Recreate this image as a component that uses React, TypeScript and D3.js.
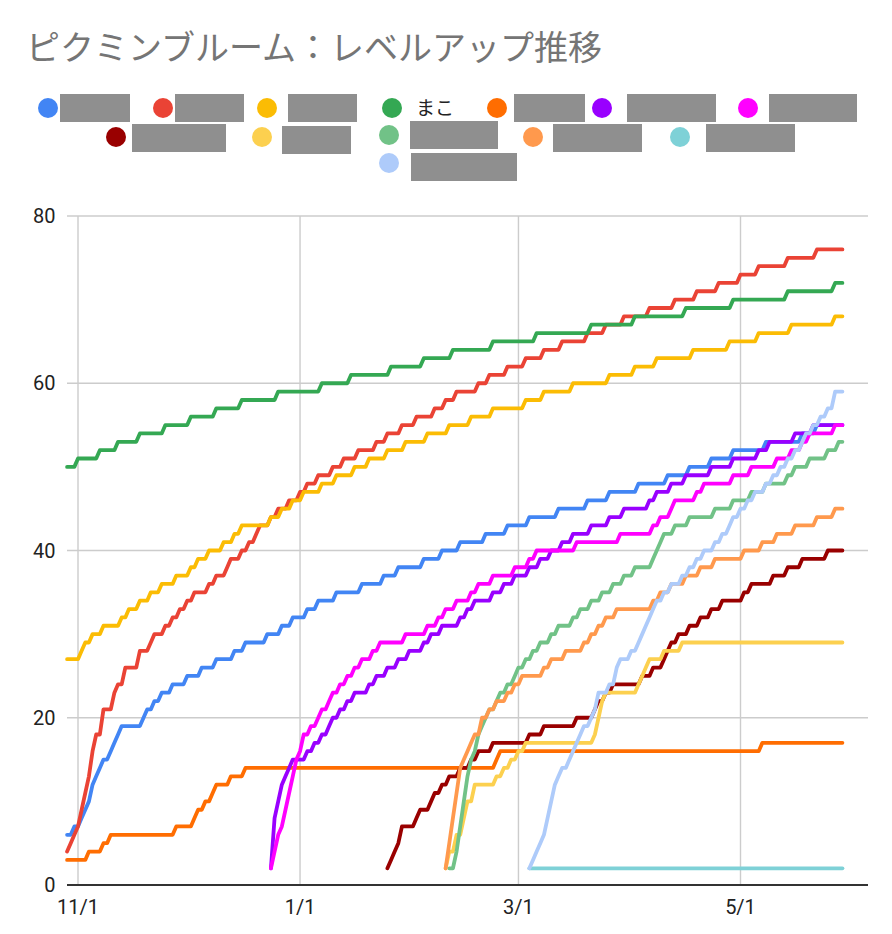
import React from 'react';
import * as d3 from 'd3';

// ---------- data ----------
const title = 'ピクミンブルーム：レベルアップ推移';
const baseDate = Date.UTC(2023, 10, 1); // day 0 = 11/1
const endDay = 210;

const seriesLabels = [null, null, null, 'まこ', null, null, null, null, null, null, null, null, null];
const seriesColors = ['#4285f4', '#ea4335', '#fbbc04', '#34a853', '#ff6d01', '#9900ff', '#ff00ff',
  '#990000', '#fcd04f', '#71c287', '#ff994d', '#7ed1d7', '#aecbfa'];

// [day offset from 11/1, level reached]
const stepsBlue = [[-3,6],[-1,7],[1,8],[2,9],[3,10],[4,12],[5,13],[6,14],[7,15],[9,16],[10,17],[11,18],[12,19],[18,20],[19,21],[21,22],[23,23],[26,24],[30,25],[34,26],[38,27],[43,28],[46,29],[52,30],[56,31],[59,32],[63,33],[66,34],[71,35],[78,36],[84,37],[88,38],[95,39],[100,40],[105,41],[112,42],[118,43],[124,44],[132,45],[140,46],[146,47],[154,48],[162,49],[168,50],[174,51],[180,52],[189,53],[199,54],[203,55]];
const stepsRed = [[-3,4],[-2,5],[-1,6],[0,7],[1,9],[2,11],[3,13],[4,16],[5,18],[7,21],[10,23],[11,24],[13,26],[17,28],[20,29],[21,30],[24,31],[26,32],[28,33],[30,34],[32,35],[36,36],[38,37],[41,38],[42,39],[45,40],[47,41],[49,42],[50,43],[53,44],[55,45],[58,46],[61,47],[63,48],[66,49],[70,50],[73,51],[77,52],[82,53],[85,54],[89,55],[93,56],[98,57],[101,58],[104,59],[110,60],[113,61],[118,62],[123,63],[128,64],[133,65],[140,66],[145,67],[150,68],[157,69],[164,70],[170,71],[176,72],[182,73],[187,74],[195,75],[203,76]];
const stepsYellow = [[-3,27],[1,28],[2,29],[4,30],[7,31],[12,32],[14,33],[17,34],[20,35],[23,36],[27,37],[31,38],[33,39],[36,40],[40,41],[43,42],[45,43],[53,44],[56,45],[59,46],[62,47],[67,48],[71,49],[76,50],[80,51],[85,52],[90,53],[96,54],[102,55],[108,56],[114,57],[123,58],[128,59],[136,60],[146,61],[153,62],[159,63],[169,64],[179,65],[187,66],[196,67],[208,68]];
const stepsGreen = [[-3,50],[0,51],[6,52],[11,53],[17,54],[24,55],[31,56],[38,57],[45,58],[55,59],[67,60],[75,61],[86,62],[95,63],[103,64],[114,65],[126,66],[141,67],[153,68],[167,69],[180,70],[195,71],[208,72]];
const stepsOrange = [[-3,3],[3,4],[7,5],[9,6],[27,7],[32,8],[33,9],[35,10],[37,11],[38,12],[42,13],[46,14],[115,15],[116,16],[188,17]];
const stepsPurple = [[53,2],[54,8],[55,10],[56,12],[57,13],[58,14],[59,15],[63,16],[65,17],[67,18],[69,19],[70,20],[72,21],[74,22],[76,23],[80,24],[82,25],[85,26],[88,27],[91,28],[95,29],[97,30],[100,31],[105,32],[107,33],[109,34],[114,35],[117,36],[120,37],[124,38],[127,39],[130,40],[133,41],[136,42],[141,43],[146,44],[150,45],[157,46],[159,47],[163,48],[167,49],[174,50],[180,51],[187,52],[190,53],[197,54],[202,55]];
const stepsMagenta = [[53,2],[54,4],[55,6],[56,7],[57,9],[58,11],[59,13],[60,15],[61,16],[62,18],[64,19],[66,20],[67,21],[69,22],[70,23],[72,24],[74,25],[76,26],[78,27],[81,28],[83,29],[90,30],[96,31],[99,32],[101,33],[104,34],[108,35],[110,36],[114,37],[120,38],[124,39],[126,40],[137,41],[149,42],[158,43],[160,44],[163,45],[164,46],[170,47],[172,48],[180,49],[185,50],[192,51],[196,52],[199,53],[201,54],[208,55]];
const stepsDarkRed = [[85,2],[86,3],[87,4],[88,5],[89,7],[93,8],[94,9],[97,10],[98,11],[100,12],[102,13],[105,14],[108,15],[110,16],[114,17],[124,18],[128,19],[137,20],[142,21],[143,22],[145,23],[147,24],[155,25],[158,26],[161,27],[162,28],[163,29],[165,30],[168,31],[171,32],[174,33],[177,34],[183,35],[185,36],[191,37],[195,38],[199,39],[206,40]];
const stepsLightYellow = [[101,2],[102,4],[104,6],[106,8],[107,10],[109,12],[115,13],[117,14],[119,15],[121,16],[123,17],[142,18],[143,20],[144,22],[145,23],[154,24],[155,25],[156,26],[157,27],[161,28],[166,29]];
const stepsLightGreen = [[102,2],[104,4],[105,7],[106,10],[107,13],[108,15],[109,16],[110,18],[111,19],[112,20],[113,21],[115,22],[116,23],[118,24],[120,25],[121,26],[123,27],[125,28],[127,29],[130,30],[132,31],[136,32],[138,33],[141,34],[144,35],[147,36],[150,37],[153,38],[158,39],[159,40],[160,41],[161,42],[164,43],[168,44],[175,45],[180,46],[185,47],[189,48],[195,49],[197,50],[201,51],[206,52],[209,53]];
const stepsLightOrange = [[101,2],[102,5],[103,8],[104,11],[105,14],[106,15],[107,16],[108,17],[109,18],[111,20],[113,21],[115,22],[118,23],[120,24],[122,25],[128,26],[130,27],[134,28],[139,29],[141,30],[143,31],[145,32],[148,33],[158,34],[160,35],[163,36],[167,37],[171,38],[175,39],[183,40],[188,41],[192,42],[197,43],[203,44],[208,45]];
const stepsTeal = [[124,2]];
const stepsLightBlue = [[124,2],[125,3],[126,4],[127,5],[128,6],[129,8],[130,10],[131,12],[132,13],[133,14],[135,15],[136,16],[137,17],[138,18],[139,19],[141,20],[142,21],[143,23],[146,24],[148,26],[149,27],[152,28],[154,29],[155,30],[156,31],[157,32],[158,33],[159,34],[161,35],[163,36],[166,37],[168,38],[170,39],[172,40],[175,41],[177,42],[179,43],[180,44],[182,45],[184,46],[186,47],[189,48],[191,49],[193,50],[195,51],[197,52],[199,53],[200,54],[202,55],[204,56],[206,57],[208,59]];

const allSteps = [stepsBlue, stepsRed, stepsYellow, stepsGreen, stepsOrange, stepsPurple, stepsMagenta,
  stepsDarkRed, stepsLightYellow, stepsLightGreen, stepsLightOrange, stepsTeal, stepsLightBlue];

const yTicks = [0, 20, 40, 60, 80];
const xTickLabels = ['11/1', '1/1', '3/1', '5/1'];
const xTickDates = [Date.UTC(2023, 10, 1), Date.UTC(2024, 0, 1), Date.UTC(2024, 2, 1), Date.UTC(2024, 4, 1)];

// legend layout: [circle x, circle y, box x, box y, box w, box h]
const legendLayout = [
  [48, 108, 60, 94, 70, 28], [163, 108, 175, 94, 69, 28], [267, 108, 288, 94, 69, 28],
  [392, 108, 0, 0, 0, 0], [497, 108, 514, 94, 71, 28], [602, 108, 627, 94, 89, 28],
  [748, 108, 769, 94, 88, 28],
  [116, 137, 132, 124, 94, 28], [262, 137, 282, 126, 69, 28], [389, 135, 410, 121, 88, 28],
  [533, 137, 553, 124, 89, 28], [680, 137, 706, 124, 89, 28],
  [389, 163, 411, 153, 106, 28],
];

function expand(steps: number[][]) {
  const pts: { d: Date; v: number }[] = [];
  const start = steps[0][0];
  let idx = 0;
  for (let day = start; day <= endDay; day++) {
    while (idx + 1 < steps.length && steps[idx + 1][0] <= day) idx++;
    pts.push({ d: new Date(baseDate + day * 86400000), v: steps[idx][1] });
  }
  return pts;
}

export default function App() {
  const W = 892, H = 934;
  const plotL = 67, plotR = 868, plotT = 216, plotB = 885;
  const x = d3.scaleUtc()
    .domain([new Date(xTickDates[0]), new Date(xTickDates[3])])
    .range([78, 740.5]);
  const y = d3.scaleLinear().domain([0, 80]).range([plotB, plotT]);
  const line = d3.line<{ d: Date; v: number }>().x(p => x(p.d)).y(p => y(p.v));
  const font = 'Roboto, Arial, "Liberation Sans", sans-serif';

  return (
    <svg width={W} height={H} style={{ position: 'absolute', left: 0, top: 0, background: '#fff' }}>
      <rect x={0} y={0} width={W} height={H} fill="#fff" />
      <text x={26} y={60} fontSize={34} fill="#757575" fontFamily='"Noto Sans CJK JP", sans-serif'>{title}</text>

      {/* legend */}
      {legendLayout.map((l, i) => (
        <g key={'lg' + i}>
          <circle cx={l[0]} cy={l[1]} r={10} fill={seriesColors[i]} />
          {seriesLabels[i] ? (
            <text x={l[0] + 24} y={l[1]} dy="0.35em" fontSize={19} fill="#222"
              fontFamily='"Noto Sans CJK JP", sans-serif'>{seriesLabels[i]}</text>
          ) : (
            <rect x={l[2]} y={l[3]} width={l[4]} height={l[5]} fill="#8f8f8f" />
          )}
        </g>
      ))}

      {/* grid */}
      {yTicks.filter(t => t > 0).map(t => (
        <line key={'gy' + t} x1={plotL} x2={plotR} y1={y(t)} y2={y(t)} stroke="#cccccc" strokeWidth={1.4} />
      ))}
      {xTickDates.map((d, i) => (
        <line key={'gx' + i} x1={x(new Date(d))} x2={x(new Date(d))} y1={plotT} y2={plotB} stroke="#cccccc" strokeWidth={1.4} />
      ))}

      {/* series */}
      {allSteps.map((s, i) => (
        <path key={'s' + i} d={line(expand(s)) || ''} fill="none" stroke={seriesColors[i]}
          strokeWidth={3.8} strokeLinejoin="round" strokeLinecap="round" />
      ))}

      {/* axis baseline */}
      <line x1={plotL} x2={plotR} y1={plotB} y2={plotB} stroke="#333" strokeWidth={2} />

      {/* labels */}
      {yTicks.map(t => (
        <text key={'ty' + t} x={55.5} y={y(t)} dy="0.36em" textAnchor="end" fontSize={20} fill="#222" fontFamily={font}>{t}</text>
      ))}
      {xTickDates.map((d, i) => (
        <text key={'tx' + i} x={x(new Date(d))} y={914} textAnchor="middle" fontSize={20} fill="#222" fontFamily={font}>{xTickLabels[i]}</text>
      ))}
    </svg>
  );
}
